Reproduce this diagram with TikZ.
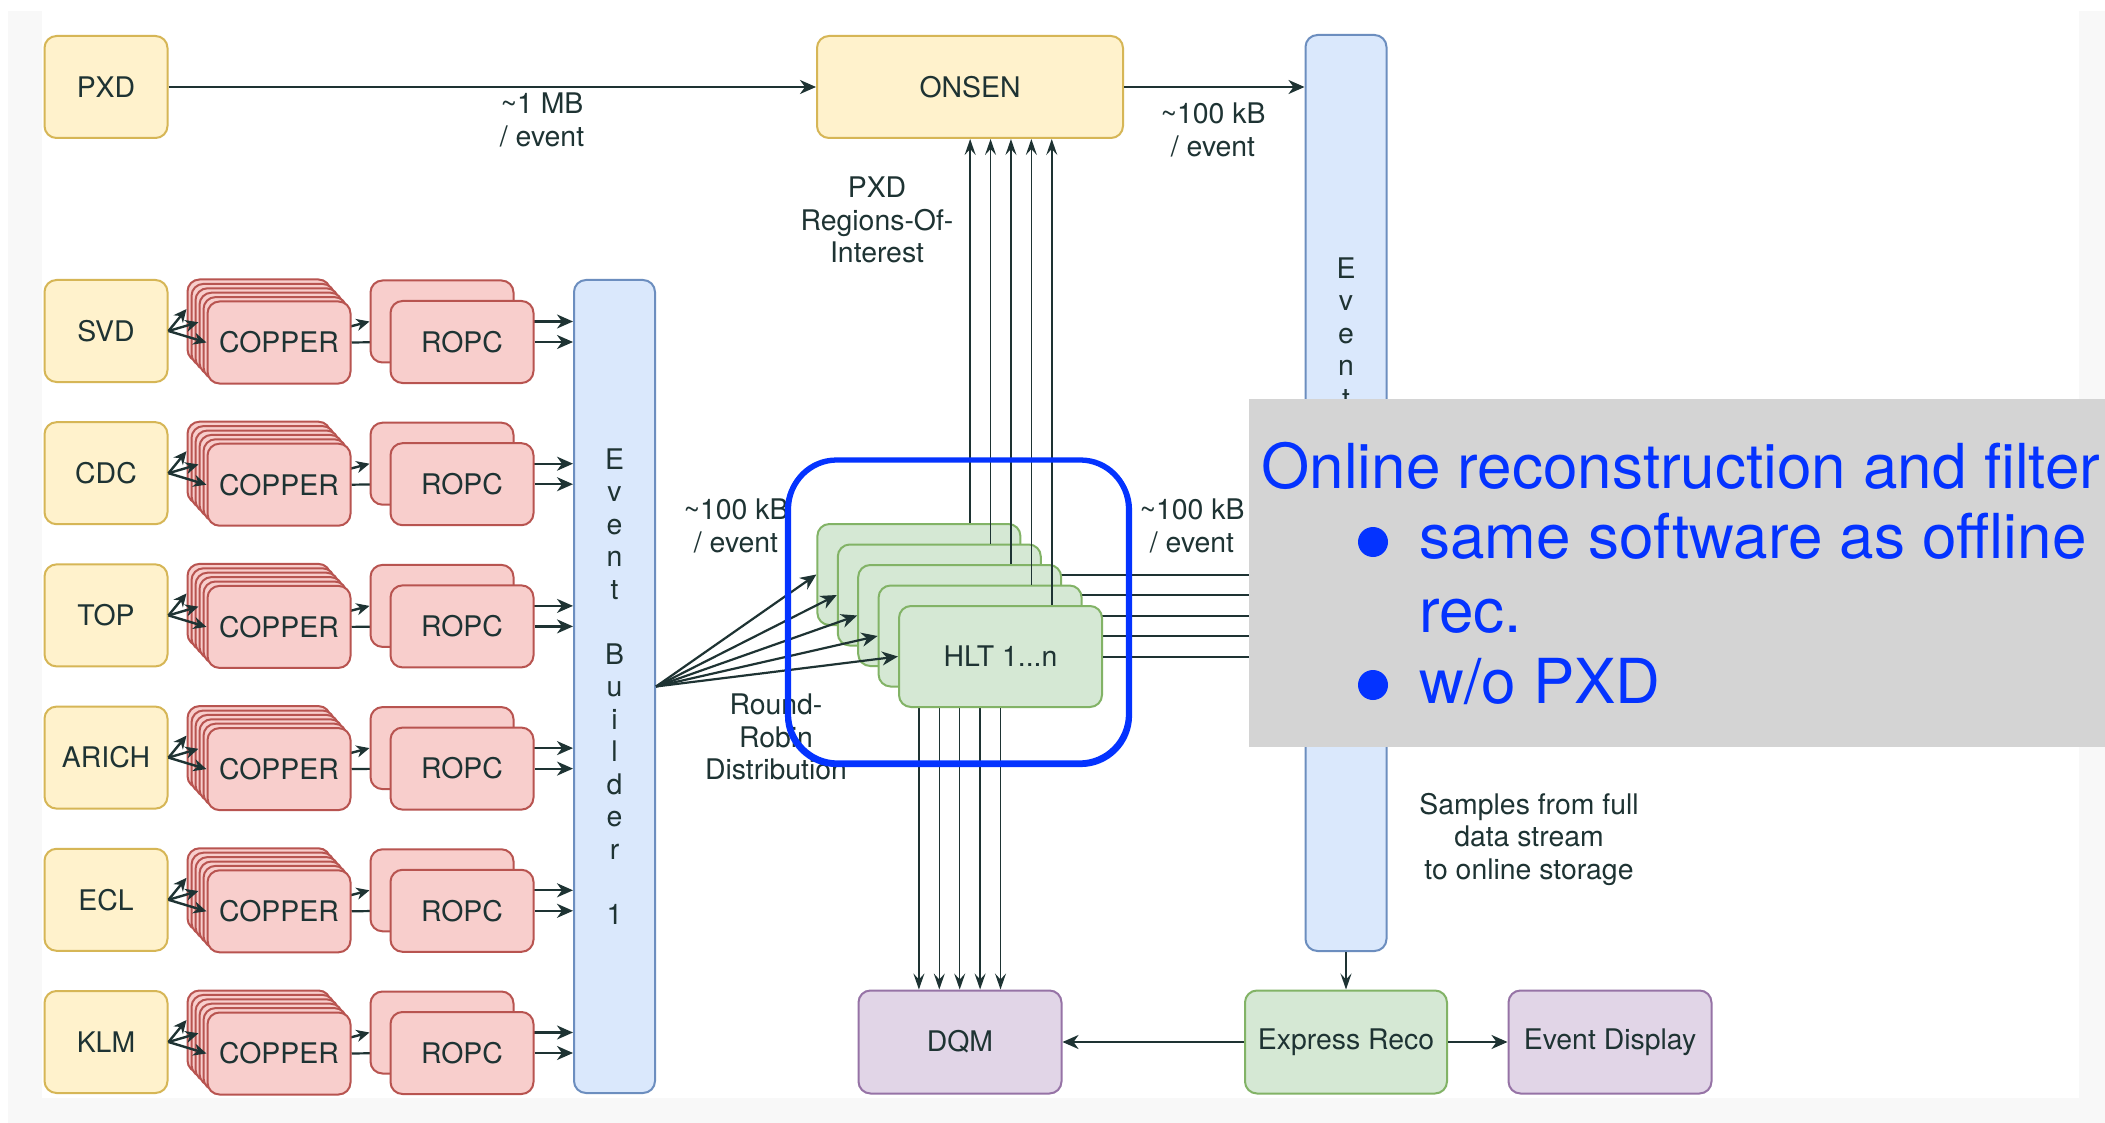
\documentclass[tikz,border=0pt]{standalone}
\usepackage{fontspec}
\setmainfont{TeX Gyre Heros}
\usetikzlibrary{arrows.meta,calc}

\definecolor{ink}{HTML}{1E3333}
\definecolor{yelfill}{HTML}{FFF2CC}
\definecolor{yeldraw}{HTML}{D6B656}
\definecolor{redfill}{HTML}{F8CECC}
\definecolor{reddraw}{HTML}{B85450}
\definecolor{bluefill}{HTML}{DAE8FC}
\definecolor{bluedraw}{HTML}{6C8EBF}
\definecolor{greenfill}{HTML}{D5E8D4}
\definecolor{greendraw}{HTML}{82B366}
\definecolor{purplefill}{HTML}{E1D5E7}
\definecolor{purpledraw}{HTML}{9673A6}
\definecolor{callgrey}{HTML}{D4D4D4}
\definecolor{paper}{HTML}{F8F8F8}
\definecolor{hiblue}{HTML}{0433FF}

\newcommand\diagfont{\fontsize{14.2}{16.25}\selectfont}
\newcommand\slidefont{\fontsize{31}{36}\selectfont}

\pgfdeclarelayer{background}
\pgfdeclarelayer{edges}
\pgfsetlayers{background,edges,main}

\tikzset{
  box/.style={draw, rounded corners=6pt, line width=1pt, inner sep=0pt, text=ink, font=\diagfont},
  detector/.style={box, fill=yelfill, draw=yeldraw, minimum width=61.5pt, minimum height=51pt},
  copper/.style={box, fill=redfill, draw=reddraw, minimum width=71.5pt, minimum height=41pt},
  builder/.style={box, fill=bluefill, draw=bluedraw, minimum width=40.5pt, align=center},
  hlt/.style={box, fill=greenfill, draw=greendraw, minimum width=101.5pt, minimum height=50.5pt},
  reco/.style={box, fill=greenfill, draw=greendraw, minimum width=101pt, minimum height=51.5pt},
  monitor/.style={box, fill=purplefill, draw=purpledraw, minimum width=101.5pt, minimum height=51.5pt},
  note/.style={text=ink, font=\diagfont, align=center, inner sep=0pt},
  flow/.style={draw=ink, line width=1.1pt, -{Stealth[length=8pt,width=7pt,inset=2.5pt]}},
  shortflow/.style={draw=ink, line width=1.2pt, -{Stealth[length=6.5pt,width=6pt,inset=2pt]}},
  thinflow/.style={draw=ink, line width=0.75pt, -{Stealth[length=8pt,width=5.5pt,inset=3pt]}},
  sideflow/.style={thinflow, line width=1pt},
  callout/.style={fill=callgrey},
  slidetext/.style={text=hiblue, font=\slidefont, inner sep=0pt, anchor=base west},
  sketch/.style={draw=hiblue, line width=1.6pt, rounded corners=24pt},
}

\begin{document}
\begin{tikzpicture}[x=0.5pt,y=-0.5pt]
\useasboundingbox (0,0) rectangle (2105,1123);
\begin{pgfonlayer}{background}
\fill[white] (0,0) rectangle (2105,1123);
\fill[paper] (8,11) rectangle (2105,1123);
\fill[white] (42,0) rectangle (2079,1098);
\end{pgfonlayer}

\node[detector] (PXD) at (106,87) {PXD};
\node[detector, minimum width=153pt] (ONSEN) at (970,87) {ONSEN};
\node[builder, minimum height=406.5pt] (EBone) at (614.5,686.5)
  {E\\v\\e\\n\\t\\[16.25pt]B\\u\\i\\l\\d\\e\\r\\[16.25pt]1};
\node[builder, minimum height=458pt] (EBtwo) at (1346,493) {};
\node[note] (EBtwoLabel) at (1346,333) {E\\v\\e\\n\\t};
\node[monitor] (DQM) at (960,1042) {DQM};
\node[reco] (Express) at (1346,1042) {Express Reco};
\node[monitor] (Display) at (1610,1042) {Event Display};

\draw[flow] (PXD) -- (ONSEN);
\node[note] (pxdRate) at (542,120) {\textasciitilde1 MB\\/ event};
\draw[flow] (ONSEN) -- (ONSEN.east -| EBtwo.west);
\node[note] (onsenRate) at (1213,130) {\textasciitilde100 kB\\/ event};
\node[note] (roiLabel) at (877,220) {PXD\\Regions-Of-\\Interest};

\foreach \detname [count=\r from 0] in {SVD,CDC,TOP,ARICH,ECL,KLM}{
  \pgfmathsetmacro\yrow{331+142.2*\r}
  \node[detector] (\detname) at (106,\yrow) {\detname};
  \foreach \k in {5,...,1}
    \node[copper] (\detname-copper\k) at (279-4*\k,\yrow+11.5-4.4*\k) {};
  \node[copper] (\detname-copper0) at (279,\yrow+11.5) {COPPER};
  \node[copper] (\detname-ropcback) at (442,\yrow-9.5) {};
  \node[copper] (\detname-ropc) at (462,\yrow+11) {ROPC};
  \draw[shortflow] (\detname.east) -- (\detname-copper5.171);
  \draw[shortflow] (\detname.east) -- (\detname-copper2.171);
  \draw[shortflow] (\detname.east) -- (\detname-copper0.west);
  \begin{pgfonlayer}{edges}
    \draw[shortflow] (\detname-copper3.east) -- (\detname-ropcback.west);
    \draw[flow] (\detname-copper0.east) -- (\detname-ropc.west);
    \draw[flow] (\detname-ropcback.east) -- (\detname-ropcback.east -| EBone.west);
    \draw[flow] (\detname-ropc.east) -- (\detname-ropc.east -| EBone.west);
  \end{pgfonlayer}
}

\foreach \i in {0,...,4}{
  \node[hlt] (HLT\i) at (918.9+20.4*\i,574.5+20.5*\i) {\ifnum\i=4 HLT 1...n\fi};
  \draw[flow] (EBone.east) -- (HLT\i.west);
  \path ($(HLT\i.north west)!0.75!(HLT\i.north east)$) coordinate (roi\i);
  \draw[thinflow] (roi\i) -- (roi\i |- ONSEN.south);
  \draw[sideflow] (HLT\i.east) -- (HLT\i.east -| EBtwo.west);
  \draw[thinflow] (HLT\i.south) -- (HLT\i.south |- DQM.north);
}

\draw[flow] (Express) -- (DQM);
\draw[flow] (Express) -- (Display);
\draw[thinflow] (EBtwo) -- (Express);

\node[note] (inRate) at (736,526) {\textasciitilde100 kB\\/ event};
\node[note] (outRate) at (1192,526) {\textasciitilde100 kB\\/ event};
\node[note] (rrLabel) at (776,737) {Round-\\Robin\\Distribution};
\node[note] (samplesLabel) at (1529,839) {Samples from full\\data stream\\to online storage};

\draw[sketch] (788,459) rectangle (1129,764);
\draw[sketch] (789.5,461) rectangle (1127.5,762);
\draw[sketch, rounded corners=25pt] (786.5,460) rectangle (1130.5,765.5);

\fill[callout] (1249,399) rectangle (2105,747);
\node[slidetext] (slideTitle) at (1261,488) {Online reconstruction and filter};
\fill[hiblue] (1373,542) circle[radius=7.5pt];
\node[slidetext] (itemOne) at (1419,558) {same software as offline};
\node[slidetext] (itemOneCont) at (1419,632) {rec.};
\fill[hiblue] (1373,685) circle[radius=7.5pt];
\node[slidetext] (itemTwo) at (1419,703) {w/o PXD};
\end{tikzpicture}
\end{document}
